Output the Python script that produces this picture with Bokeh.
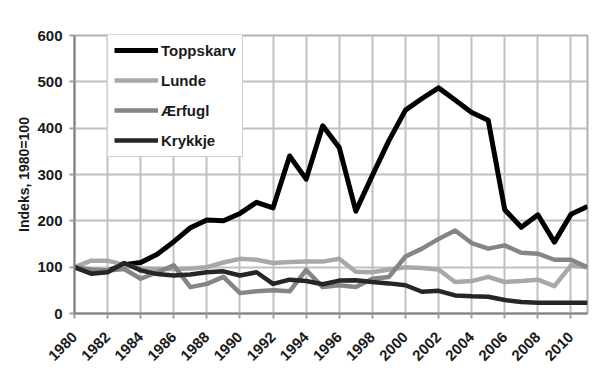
from bokeh.plotting import figure
from bokeh.models import Legend, LegendItem, FixedTicker, Range1d
from bokeh.embed import file_html
from bokeh.resources import INLINE
import math

years = list(range(1980, 2012))
toppskarv = [100, 90, 92, 105, 110, 128, 155, 185, 202, 200, 216, 240, 228, 340, 290, 405,
             358, 221, 298, 373, 439, 464, 487, 461, 434, 417, 224, 186, 213, 154, 214, 231]
lunde = [100, 114, 114, 105, 97, 96, 96, 97, 100, 110, 118, 116, 109, 111, 112, 112,
         118, 90, 89, 95, 100, 98, 95, 68, 70, 79, 68, 70, 73, 59, 104, 100]
aerfugl = [100, 95, 93, 96, 75, 89, 104, 57, 64, 79, 44, 48, 50, 48, 94, 57,
           61, 57, 75, 79, 123, 140, 161, 179, 152, 140, 147, 131, 129, 116, 116, 100]
krykkje = [100, 86, 89, 109, 93, 85, 82, 84, 89, 91, 82, 89, 64, 73, 70, 63,
           71, 72, 68, 65, 61, 47, 49, 39, 37, 36, 29, 25, 23, 23, 23, 23]

names = ["Toppskarv", "Lunde", "Ærfugl", "Krykkje"]
series = [toppskarv, lunde, aerfugl, krykkje]
colors = ["#000000", "#a8a8a8", "#858585", "#262626"]
widths = [5, 4.5, 4.5, 4.5]

y_ticks = [0, 100, 200, 300, 400, 500, 600]
x_ticks = list(range(1980, 2011, 2))

FONT = "Liberation Sans"

p = figure(width=600, height=370, output_backend="svg", toolbar_location=None,
           x_range=Range1d(1980, 2011), y_range=Range1d(0, 600),
           min_border_left=74, min_border_right=13, min_border_top=35, min_border_bottom=57)
p.background_fill_color = "white"
p.border_fill_color = "white"
p.outline_line_color = "#b0b0b0"
p.outline_line_width = 2

renderers = []
for name, ys, c, w in zip(names, series, colors, widths):
    r = p.line(years, ys, line_color=c, line_width=w, line_join="round")
    renderers.append(r)

p.xgrid.ticker = FixedTicker(ticks=x_ticks)
p.ygrid.ticker = FixedTicker(ticks=y_ticks)
for g in (p.xgrid[0], p.ygrid[0]):
    g.grid_line_color = "#c0c0c0"
    g.grid_line_width = 2

xa = p.xaxis[0]
xa.ticker = FixedTicker(ticks=x_ticks)
xa.major_label_orientation = math.pi / 4
ya = p.yaxis[0]
ya.ticker = FixedTicker(ticks=y_ticks)
ya.axis_label = "Indeks, 1980=100"
ya.axis_label_text_font = FONT
ya.axis_label_text_font_style = "bold"
ya.axis_label_text_font_size = "14px"
ya.axis_label_text_color = "#1a1a1a"
ya.axis_label_standoff = 2
for a in (xa, ya):
    a.axis_line_color = "#808080"
    a.axis_line_width = 2
    a.major_tick_line_color = "#a0a0a0"
    a.major_tick_line_width = 2
    a.major_tick_out = 5
    a.major_tick_in = 0
    a.minor_tick_line_color = None
    a.major_label_text_font = FONT
    a.major_label_text_font_size = "15px"
    a.major_label_text_font_style = "bold"
    a.major_label_text_color = "#1a1a1a"
ya.major_label_standoff = 7
xa.major_label_standoff = 16

items = [LegendItem(label=n, renderers=[r]) for n, r in zip(names, renderers)]
legend = Legend(items=items, location=(33, 156))
legend.label_text_font = FONT
legend.label_text_font_size = "15px"
legend.label_text_font_style = "bold"
legend.label_text_color = "#1a1a1a"
legend.glyph_width = 44
legend.glyph_height = 20
legend.label_height = 20
legend.spacing = 10
legend.padding = 6
legend.margin = 0
legend.label_standoff = 3
legend.border_line_color = "#a0a0a0"
legend.border_line_width = 1
legend.background_fill_color = "white"
legend.background_fill_alpha = 1
p.add_layout(legend)

open("out.html", "w").write(file_html(p, INLINE))
